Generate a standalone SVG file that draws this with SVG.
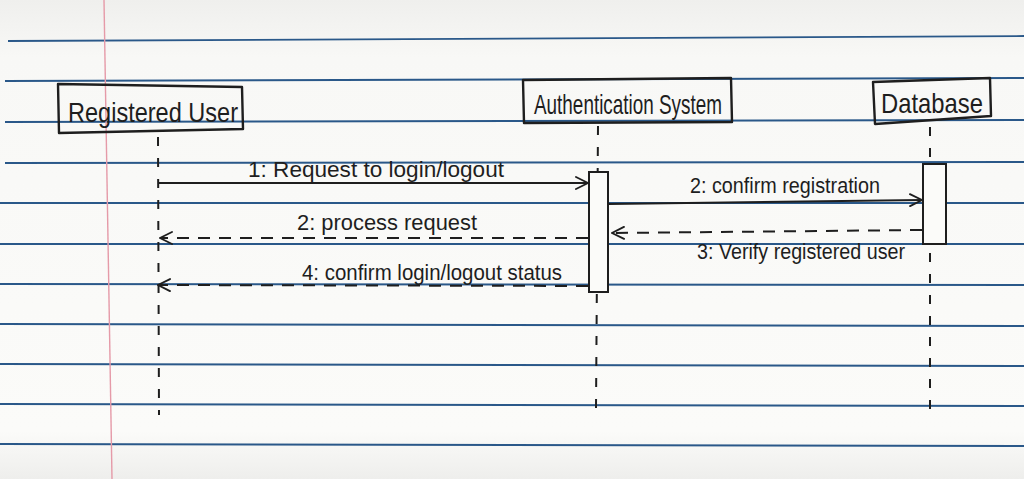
<svg xmlns="http://www.w3.org/2000/svg" width="1024" height="479" viewBox="0 0 1024 479">
  <defs>
    <marker id="open" viewBox="0 0 14 14" refX="13" refY="7" markerWidth="14" markerHeight="14" markerUnits="userSpaceOnUse" orient="auto">
      <path d="M1 1 L13 7 L1 13" fill="none" stroke="#1e1e1e" stroke-width="1.9" stroke-linecap="round"/>
    </marker>
    <linearGradient id="paper" x1="0" y1="0" x2="0" y2="1">
      <stop offset="0" stop-color="#efefed"/>
      <stop offset="0.12" stop-color="#f8f8f6"/>
      <stop offset="0.9" stop-color="#fbfbf9"/>
      <stop offset="1" stop-color="#eeeeec"/>
    </linearGradient>
  </defs>
  <style>
    .rule { stroke: #2a5889; stroke-width: 1.8; fill: none; }
    .margin { stroke: #e59aa8; stroke-width: 1.4; fill: none; }
    .box { fill: none; stroke: #1e1e1e; stroke-width: 2.4; stroke-linejoin: round; }
    .act { fill: #fbfbf9; stroke: #1e1e1e; stroke-width: 2; }
    .life { stroke: #1e1e1e; stroke-width: 2; stroke-dasharray: 9 12; fill: none; }
    .msg { stroke: #1e1e1e; stroke-width: 2; fill: none; marker-end: url(#open); }
    .ret { stroke: #1e1e1e; stroke-width: 2; fill: none; stroke-dasharray: 12 9; marker-end: url(#open); }
    .name { font-family: "Liberation Sans", sans-serif; font-size: 28px; fill: #1e1e1e; }
    .lbl { font-family: "Liberation Sans", sans-serif; font-size: 22px; fill: #1e1e1e; }
  </style>

  <!-- notebook paper -->
  <rect width="1024" height="479" fill="url(#paper)"/>
  <g id="rules">
    <path class="rule" d="M8 41 L1024 36"/>
    <path class="rule" d="M5 81 L1024 78"/>
    <path class="rule" d="M5 122 L1024 120"/>
    <path class="rule" d="M5 163 L1024 162"/>
    <path class="rule" d="M0 203 L1024 203"/>
    <path class="rule" d="M0 244 L1024 244"/>
    <path class="rule" d="M0 284 L1024 285"/>
    <path class="rule" d="M0 324 L1024 326"/>
    <path class="rule" d="M0 364 L1024 366"/>
    <path class="rule" d="M0 404 L1024 406"/>
    <path class="rule" d="M0 444 L1024 446"/>
  </g>
  <path class="margin" d="M104 0 L112 479"/>

  <!-- participants -->
  <g id="registered-user">
    <path class="box" d="M58 84 L242 87 L243 129 L59 133 Z"/>
    <text class="name" x="68" y="122" textLength="170" lengthAdjust="spacingAndGlyphs">Registered User</text>
  </g>
  <g id="authentication-system">
    <path class="box" d="M523 80 L731 78 L732 122 L524 123 Z"/>
    <text class="name" x="534" y="114" textLength="188" lengthAdjust="spacingAndGlyphs">Authentication System</text>
  </g>
  <g id="database">
    <path class="box" d="M873 82 L990 78 L991 116 L875 124 Z"/>
    <text class="name" x="881" y="113" textLength="102" lengthAdjust="spacingAndGlyphs">Database</text>
  </g>

  <!-- lifelines and activation bars -->
  <g id="lifelines">
    <path class="life" d="M158 137 L159 415"/>
    <path class="life" d="M598 126 L596 408"/>
    <path class="life" d="M930 127 L930 411"/>
  </g>
  <g id="activations">
    <rect id="auth-activation" class="act" x="589" y="172" width="19" height="120"/>
    <rect id="db-activation" class="act" x="923" y="164" width="23" height="80"/>
  </g>

  <!-- messages -->
  <g id="connectors">
    <path class="msg" d="M158 183 L588 183"/>
    <path class="msg" d="M609 204 L922 200"/>
    <path class="ret" d="M922 230 L612 233"/>
    <path class="ret" d="M588 238 L160 238"/>
    <path class="ret" d="M588 286 L158 285"/>
  </g>
  <g id="labels">
    <text class="lbl" x="248" y="177" textLength="256" lengthAdjust="spacingAndGlyphs">1: Request to login/logout</text>
    <text class="lbl" x="690" y="193" textLength="190" lengthAdjust="spacingAndGlyphs">2: confirm registration</text>
    <text class="lbl" x="297" y="230" textLength="180" lengthAdjust="spacingAndGlyphs">2: process request</text>
    <text class="lbl" x="697" y="259" textLength="208" lengthAdjust="spacingAndGlyphs">3: Verify registered user</text>
    <text class="lbl" x="302" y="280" textLength="260" lengthAdjust="spacingAndGlyphs">4: confirm login/logout status</text>
  </g>
</svg>
